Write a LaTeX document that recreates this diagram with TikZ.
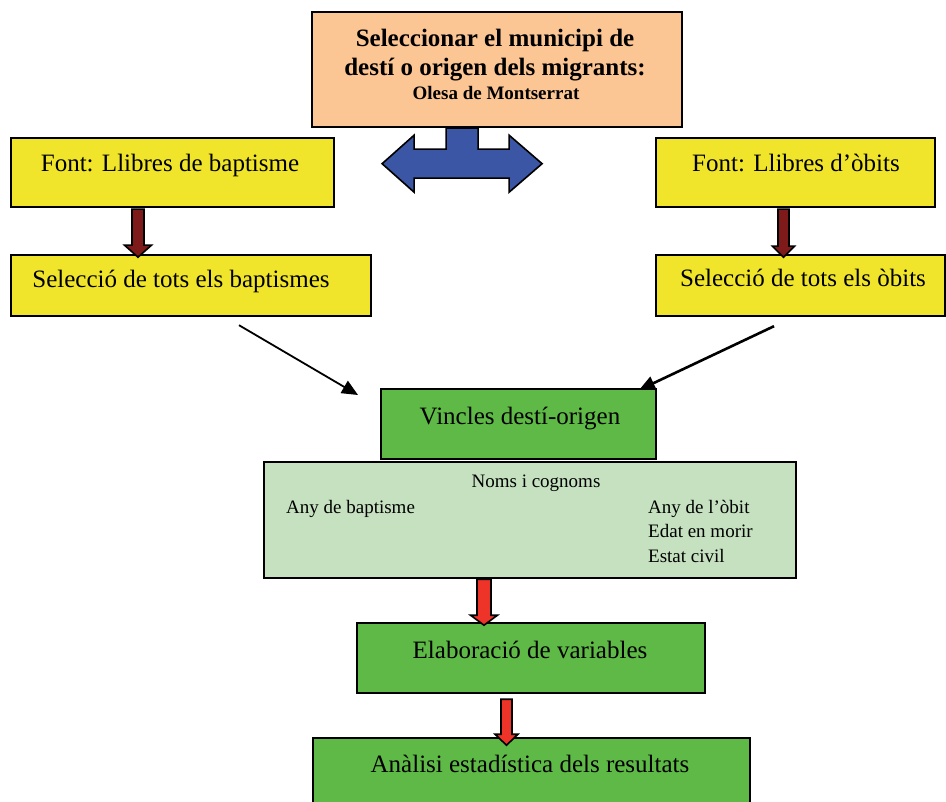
\documentclass[tikz,border=0pt]{standalone}
\usepackage{fontspec}
\setmainfont{Liberation Serif}
\usetikzlibrary{calc,arrows.meta}
\definecolor{peach}{RGB}{252,197,148}
\definecolor{yel}{RGB}{240,229,42}
\definecolor{grn}{RGB}{94,185,70}
\definecolor{lgrn}{RGB}{197,225,192}
\definecolor{blu}{RGB}{58,86,164}
\definecolor{dred}{RGB}{127,26,26}
\definecolor{rred}{RGB}{238,52,40}
\tikzset{
  box/.style={draw=black,line width=2.2pt,inner sep=0pt},
  lbl/.style={anchor=base,inner sep=0pt,font=\fontsize{25}{30}\selectfont},
  small/.style={anchor=base west,inner sep=0pt,font=\fontsize{19}{23}\selectfont},
  blk/.style={draw=black,line width=1.6pt,line join=miter},
  line/.style={draw=black,-{Triangle[length=16pt,width=14pt]}},
}
% #1 style, #2 start, #3 shaft half width, #4 head half width, #5 shaft length, #6 head length
\newcommand{\myvarrow}[6]{%
  \path[#1] ($(#2)+(-#3,0)$) -- ++(0,#5) -- ++(#3-#4,0) -- ++(#4,#6) -- ++(#4,-#6) -- ++(#3-#4,0) -- ++(0,-#5) -- cycle;}
\begin{document}
\begin{tikzpicture}[x=1pt,y=-1pt]
\useasboundingbox (0,0) rectangle (946,802);
\clip (0,0) rectangle (946,802);
% boxes
\node[box,fill=peach,minimum width=370pt,minimum height=115pt,anchor=north west] (top) at (311,11) {};
\node[box,fill=yel,minimum width=323pt,minimum height=69pt,anchor=north west] (fb) at (10,137) {};
\node[box,fill=yel,minimum width=360pt,minimum height=61pt,anchor=north west] (sb) at (10,254) {};
\node[box,fill=yel,minimum width=279pt,minimum height=69pt,anchor=north west] (fo) at (655,137) {};
\node[box,fill=yel,minimum width=289pt,minimum height=61pt,anchor=north west] (so) at (655,254) {};
\node[box,fill=grn,minimum width=275pt,minimum height=70pt,anchor=north west] (vin) at (380,388) {};
\node[box,fill=lgrn,minimum width=532pt,minimum height=116pt,anchor=north west] (noms) at (263,461) {};
\node[box,fill=grn,minimum width=348pt,minimum height=70pt,anchor=north west] (elab) at (356,622) {};
\node[box,fill=grn,minimum width=437pt,minimum height=100pt,anchor=north west] (anal) at (312,737) {};
% texts
\node[lbl,font=\bfseries\fontsize{25}{30}\selectfont] (t1) at (495,47) {Seleccionar el municipi de};
\node[lbl,font=\bfseries\fontsize{25}{30}\selectfont] (t2) at (495,76) {destí o origen dels migrants:};
\node[lbl,font=\bfseries\fontsize{19}{23}\selectfont] (t3) at (496,100) {Olesa de Montserrat};
\node[lbl] (tfb) at (170,172) {Font: Llibres de baptisme};
\node[lbl] (tsb) at (181,288) {Selecció de tots els baptismes};
\node[lbl] (tfo) at (796,172) {Font: Llibres d’òbits};
\node[lbl] (tso) at (803,287) {Selecció de tots els òbits};
\node[lbl] (tvin) at (520,425) {Vincles destí-origen};
\node[lbl,font=\fontsize{19}{23}\selectfont] (tnoms) at (536,488) {Noms i cognoms};
\node[small] (tab) at (286,513) {Any de baptisme};
\node[small] (tao) at (648,513) {Any de l’òbit};
\node[small] (tem) at (648,537) {Edat en morir};
\node[small] (tec) at (648,562) {Estat civil};
\node[lbl] (telab) at (530,658) {Elaboració de variables};
\node[lbl] (tanal) at (530,772) {Anàlisi estadística dels resultats};
% blue double arrow
\coordinate (s) at ($(top.south)+(-51,0)$);
\path[blk,fill=blu] (s) -- ++(0,21) -- ++(-32,0) -- ++(0,-14) -- ++(-32,28.5) -- ++(32,28.5) -- ++(0,-14) -- ++(95,0) -- ++(0,14) -- ++(33,-28.5) -- ++(-33,-28.5) -- ++(0,14) -- ++(-31,0) -- ++(0,-21) -- cycle;
% dark red block arrows
\coordinate (a1) at ($(fb.south west)+(128,1)$);
\myvarrow{blk,fill=dred}{a1}{6}{13.5}{36}{12}
\coordinate (a2) at ($(fo.south west)+(128.5,1)$);
\myvarrow{blk,fill=dred}{a2}{5.5}{11}{37}{11}
% red block arrows
\coordinate (a3) at ($(noms.south west)+(221,0)$);
\myvarrow{blk,fill=rred}{a3}{7}{13.5}{36}{10}
\coordinate (a4) at ($(elab.south west)+(150.5,5)$);
\myvarrow{blk,fill=rred}{a4}{5.5}{11.5}{35}{11}
% black line arrows
\coordinate (l1) at ($(sb.south west)+(229,8)$);
\coordinate (l1e) at ($(vin.north west)+(-22,7)$);
\draw[line,line width=1.8pt] (l1) -- (l1e);
\coordinate (l2) at ($(so.south west)+(119,9)$);
\coordinate (l2e) at ($(vin.north west)+(259,2)$);
\draw[line,line width=2.6pt] (l2) -- (l2e);
\end{tikzpicture}
\end{document}
